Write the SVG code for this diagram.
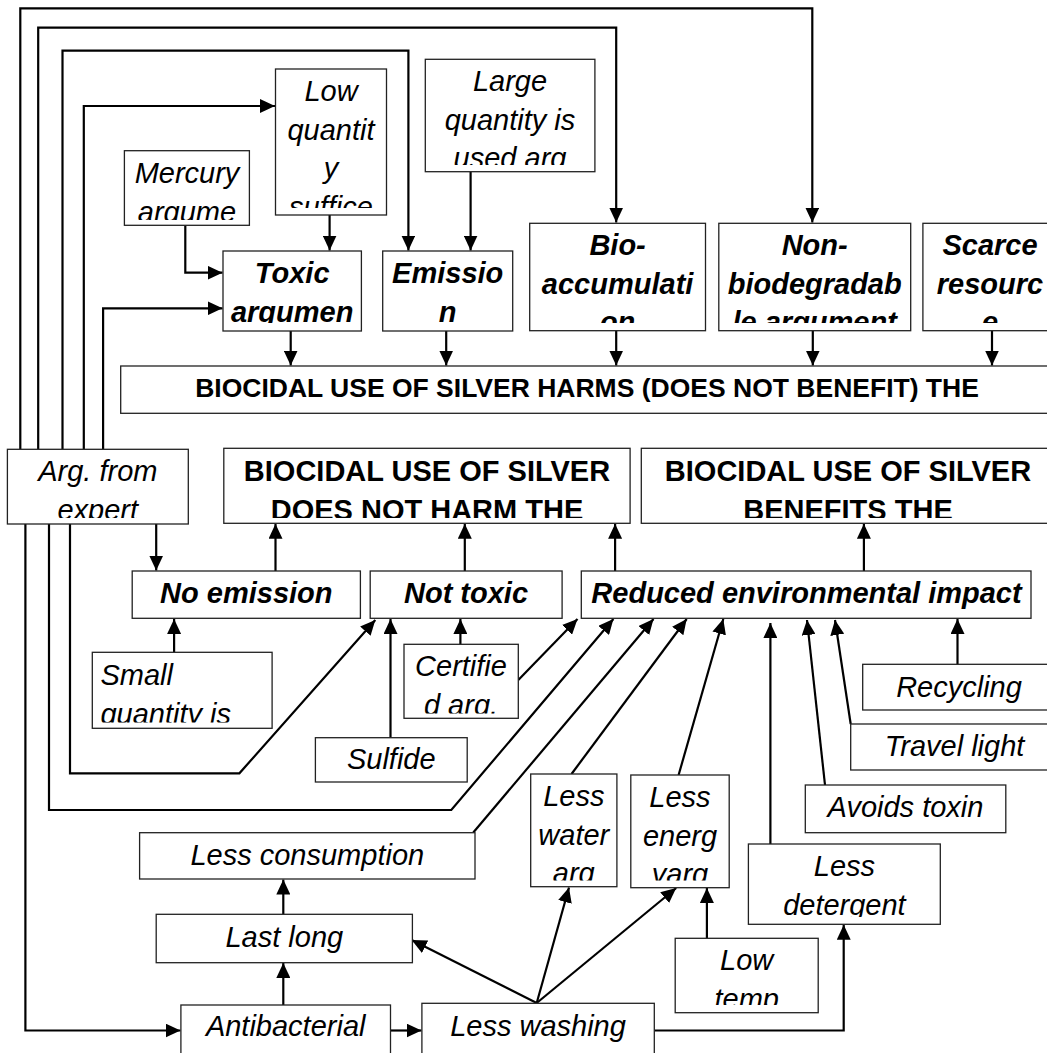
<svg xmlns="http://www.w3.org/2000/svg" width="1047" height="1053" viewBox="0 0 1047 1053">
<defs>
<style>
.box{fill:#fff;stroke:#222;stroke-width:1.3}
.t{font-family:"Liberation Sans",Arial,sans-serif;font-size:29px;fill:#000;text-anchor:middle}
.i{font-style:italic}
.bi{font-style:italic;font-weight:bold}
.b{font-weight:bold}
.c{fill:none;stroke:#000;stroke-width:2.2;marker-end:url(#ah)}
</style>
<marker id="ah" markerUnits="userSpaceOnUse" markerWidth="15" markerHeight="14" refX="15" refY="7" orient="auto">
<path d="M0,0 L15,7 L0,14 z" fill="#000"/>
</marker>
<clipPath id="c-lowq"><rect x="275" y="69" width="112" height="139"/></clipPath>
<clipPath id="c-merc"><rect x="124" y="150" width="126" height="70"/></clipPath>
<clipPath id="c-large"><rect x="425" y="59" width="170" height="106"/></clipPath>
<clipPath id="c-top"><rect x="220" y="222" width="840" height="101"/></clipPath>
<clipPath id="c-mid"><rect x="0" y="448" width="1047" height="70"/></clipPath>
<clipPath id="c-small"><rect x="92" y="652" width="180" height="70.5"/></clipPath>
<clipPath id="c-cert"><rect x="404" y="644" width="115" height="69.5"/></clipPath>
<clipPath id="c-water"><rect x="530" y="774" width="200" height="106.5"/></clipPath>
<clipPath id="c-det"><rect x="748" y="844" width="193" height="73"/></clipPath>
<clipPath id="c-temp"><rect x="675" y="938" width="144" height="67"/></clipPath>
</defs>
<rect width="1047" height="1053" fill="#fff"/>

<g id="connectors">
<path class="c" d="M20.3,449 V8.3 H812.3 V222.5"/>
<path class="c" d="M38.2,449 V27.7 H616.2 V222.5"/>
<path class="c" d="M62.5,449 V50.7 H408.4 V250.5"/>
<path class="c" d="M83.8,449 V106 H275"/>
<path class="c" d="M103.1,449 V308.3 H222.5"/>
<path class="c" d="M25.4,524 V1030.5 H180.5"/>
<path class="c" d="M49,524 V810 H451.3 L613.4,619"/>
<path class="c" d="M70,524 V773.3 H239.4 L375.3,620"/>
<path class="c" d="M156.2,524 V570.5"/>
<path class="c" d="M185.3,225.3 V272.7 H222.5"/>
<path class="c" d="M329.6,215 V250.5"/>
<path class="c" d="M470.6,171.7 V250.5"/>
<path class="c" d="M290.7,331 V365.5"/>
<path class="c" d="M446.2,331 V365.5"/>
<path class="c" d="M616.2,330.7 V365.5"/>
<path class="c" d="M812.8,330.7 V365.5"/>
<path class="c" d="M992,330.7 V365.5"/>
<path class="c" d="M275.5,571 V523.8"/>
<path class="c" d="M464.8,571 V523.8"/>
<path class="c" d="M615.1,571 V523.8"/>
<path class="c" d="M863.9,571 V523.8"/>
<path class="c" d="M174.1,652.3 V619"/>
<path class="c" d="M460.4,644.3 V619"/>
<path class="c" d="M390.5,737.7 V619"/>
<path class="c" d="M518.3,680 L577.5,619"/>
<path class="c" d="M473.3,832.5 L653.5,619"/>
<path class="c" d="M571.5,774 L686.7,619"/>
<path class="c" d="M678.6,775 L723.3,619"/>
<path class="c" d="M770.4,844 V623"/>
<path class="c" d="M825,785 L807,620"/>
<path class="c" d="M850.7,724 L835,620"/>
<path class="c" d="M957.5,664.3 V619"/>
<path class="c" d="M283.3,914.3 V879.5"/>
<path class="c" d="M283.3,1005 V963"/>
<path class="c" d="M390.5,1030.5 H421.5"/>
<path class="c" d="M536.7,1003 L411.7,940"/>
<path class="c" d="M536.7,1003 L569,887.5"/>
<path class="c" d="M536.7,1003 L676.2,888"/>
<path class="c" d="M654.3,1030.5 H843.7 V924.8"/>
<path class="c" d="M706.9,938.3 V888"/>
</g>

<g id="low-quantity">
<rect class="box" x="275.5" y="69" width="111" height="146"/>
<g clip-path="url(#c-lowq)"><text class="t i" x="331" y="101">Low</text><text class="t i" x="331" y="139.5">quantit</text><text class="t i" x="331" y="178">y</text><text class="t i" x="331" y="216.5">suffice</text></g>
</g>
<g id="mercury">
<rect class="box" x="124.4" y="150.7" width="125" height="74.6"/>
<g clip-path="url(#c-merc)"><text class="t i" x="187" y="183">Mercury</text><text class="t i" x="187" y="221.5">argume</text></g>
</g>
<g id="large-quantity">
<rect class="box" x="425.3" y="59.3" width="169.6" height="112.4"/>
<g clip-path="url(#c-large)"><text class="t i" x="510" y="91.3">Large</text><text class="t i" x="510" y="129.8">quantity is</text><text class="t i" x="510" y="168.3">used arg</text></g>
</g>
<g id="toxic">
<rect class="box" x="223" y="251" width="138.4" height="80"/>
<g clip-path="url(#c-top)"><text class="t bi" x="292.2" y="283">Toxic</text><text class="t bi" x="292.2" y="321.5">argumen</text></g>
</g>
<g id="emission">
<rect class="box" x="382.7" y="251" width="130" height="80"/>
<g clip-path="url(#c-top)"><text class="t bi" x="447.7" y="283">Emissio</text><text class="t bi" x="447.7" y="321.5">n</text></g>
</g>
<g id="bio-accumulation">
<rect class="box" x="529.7" y="223.3" width="175.8" height="107.4"/>
<g clip-path="url(#c-top)"><text class="t bi" x="617.6" y="255.3">Bio-</text><text class="t bi" x="617.6" y="293.8">accumulati</text><text class="t bi" x="617.6" y="332.3">on</text></g>
</g>
<g id="non-biodegradable">
<rect class="box" x="718.8" y="223.3" width="191.9" height="107.4"/>
<g clip-path="url(#c-top)"><text class="t bi" x="814.7" y="255.3">Non-</text><text class="t bi" x="814.7" y="293.8">biodegradab</text><text class="t bi" x="814.7" y="332.3">le argument</text></g>
</g>
<g id="scarce">
<rect class="box" x="922.9" y="223.3" width="134" height="107.4"/>
<g clip-path="url(#c-top)"><text class="t bi" x="990" y="255.3">Scarce</text><text class="t bi" x="990" y="293.8">resourc</text><text class="t bi" x="990" y="332.3">e</text></g>
</g>
<g id="harms">
<rect class="box" x="120.7" y="366" width="935" height="47.3"/>
<text class="t b" x="587" y="397" style="font-size:26.5px">BIOCIDAL USE OF SILVER HARMS (DOES NOT BENEFIT) THE</text>
</g>
<g id="arg-expert">
<rect class="box" x="7.4" y="449.3" width="180.9" height="74.7"/>
<g clip-path="url(#c-mid)"><text class="t i" x="97.8" y="481.3">Arg. from</text><text class="t i" x="97.8" y="519.8">expert</text></g>
</g>
<g id="not-harm">
<rect class="box" x="223.8" y="448.3" width="406.3" height="75"/>
<g clip-path="url(#c-mid)"><text class="t b" x="427" y="481.3">BIOCIDAL USE OF SILVER</text><text class="t b" x="427" y="519.8">DOES NOT HARM THE</text></g>
</g>
<g id="benefits">
<rect class="box" x="641.3" y="448.3" width="415" height="75"/>
<g clip-path="url(#c-mid)"><text class="t b" x="848" y="481.3">BIOCIDAL USE OF SILVER</text><text class="t b" x="848" y="519.8">BENEFITS THE</text></g>
</g>
<g id="no-emission">
<rect class="box" x="132.2" y="571" width="228.2" height="47.3"/>
<text class="t bi" x="246.3" y="603">No emission</text>
</g>
<g id="not-toxic">
<rect class="box" x="370.2" y="571" width="191.9" height="47.3"/>
<text class="t bi" x="466" y="603">Not toxic</text>
</g>
<g id="reduced">
<rect class="box" x="581.3" y="571" width="449.7" height="47.3"/>
<text class="t bi" x="806.5" y="603">Reduced environmental impact</text>
</g>
<g id="small-quantity">
<rect class="box" x="92.3" y="652.3" width="179.8" height="76"/>
<g clip-path="url(#c-small)"><text class="t i" x="100.4" y="685" style="text-anchor:start">Small</text><text class="t i" x="100.4" y="723.5" style="text-anchor:start">quantity is</text></g>
</g>
<g id="certified">
<rect class="box" x="404" y="644.3" width="114.3" height="74"/>
<g clip-path="url(#c-cert)"><text class="t i" x="461" y="676.3">Certifie</text><text class="t i" x="461" y="714.8">d arg.</text></g>
</g>
<g id="sulfide">
<rect class="box" x="315.4" y="737.7" width="151.8" height="44.3"/>
<text class="t i" x="391.3" y="768.5">Sulfide</text>
</g>
<g id="recycling">
<rect class="box" x="862.7" y="664.3" width="195" height="45.7"/>
<text class="t i" x="959" y="696.5">Recycling</text>
</g>
<g id="travel-light">
<rect class="box" x="850.7" y="724" width="207" height="46"/>
<text class="t i" x="954.5" y="755.5">Travel light</text>
</g>
<g id="avoids-toxin">
<rect class="box" x="805.3" y="785" width="200.5" height="47.7"/>
<text class="t i" x="905.5" y="817">Avoids toxin</text>
</g>
<g id="less-detergent">
<rect class="box" x="748.4" y="844" width="191.9" height="80.3"/>
<g clip-path="url(#c-det)"><text class="t i" x="844.4" y="876">Less</text><text class="t i" x="844.4" y="914.5">detergent</text></g>
</g>
<g id="less-water">
<rect class="box" x="530.7" y="774" width="86.2" height="112.7"/>
<g clip-path="url(#c-water)"><text class="t i" x="573.8" y="806">Less</text><text class="t i" x="573.8" y="844.5">water</text><text class="t i" x="573.8" y="883">arg</text></g>
</g>
<g id="less-energy">
<rect class="box" x="630.8" y="775" width="98.4" height="112.7"/>
<g clip-path="url(#c-water)"><text class="t i" x="680" y="807">Less</text><text class="t i" x="680" y="845.5">energ</text><text class="t i" x="680" y="884">yarg</text></g>
</g>
<g id="low-temp">
<rect class="box" x="675.2" y="938.3" width="143" height="74.4"/>
<g clip-path="url(#c-temp)"><text class="t i" x="746.7" y="970.3">Low</text><text class="t i" x="746.7" y="1008.8">temp</text></g>
</g>
<g id="less-consumption">
<rect class="box" x="139.6" y="832.7" width="335.4" height="46.3"/>
<text class="t i" x="307.3" y="865">Less consumption</text>
</g>
<g id="last-long">
<rect class="box" x="156.2" y="914.3" width="256.2" height="48.4"/>
<text class="t i" x="284.3" y="947">Last long</text>
</g>
<g id="antibacterial">
<rect class="box" x="180.9" y="1005" width="209.6" height="60"/>
<text class="t i" x="285.7" y="1036">Antibacterial</text>
</g>
<g id="less-washing">
<rect class="box" x="421.9" y="1003.3" width="232.4" height="60"/>
<text class="t i" x="538" y="1036">Less washing</text>
</g>
</svg>
